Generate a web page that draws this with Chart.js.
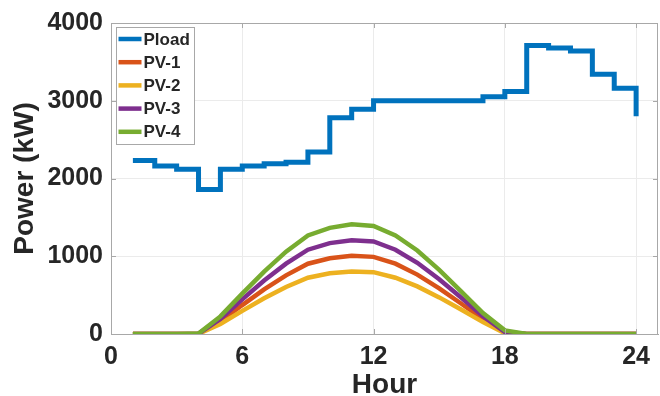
<!DOCTYPE html>
<html>
<head>
<meta charset="utf-8">
<script src="https://cdn.jsdelivr.net/npm/chart.js@4.4.1/dist/chart.umd.min.js"></script>
<style>
  html, body { margin: 0; padding: 0; background: #ffffff; }
  #wrap { width: 660px; height: 396px; position: relative; }
</style>
</head>
<body>
<div id="wrap"><canvas id="power"></canvas></div>
<script>
// hourly values
const hours = [1, 2, 3, 4, 5, 6, 7, 8, 9, 10, 11, 12, 13, 14, 15, 16, 17, 18, 19, 20, 21, 22, 23, 24];
const pload = [2230, 2160, 2120, 1860, 2120, 2160, 2190, 2210, 2340, 2780, 2890, 3000,
               3000, 3000, 3000, 3000, 3050, 3120, 3710, 3680, 3640, 3340, 3160, 2800];
const pv1 = [0, 0, 0, 3, 160, 372, 573, 754, 904, 975, 1005, 992, 904, 764, 588, 392, 191, 15, 0, 0, 0, 0, 0, 0];
const pv2 = [0, 0, 0, 2, 128, 298, 459, 604, 724, 781, 805, 795, 724, 612, 471, 314, 153, 10, 0, 0, 0, 0, 0, 0];
const pv3 = [0, 0, 0, 4, 192, 446, 687, 904, 1084, 1169, 1205, 1190, 1084, 916, 705, 470, 229, 25, 0, 0, 0, 0, 0, 0];
const pv4 = [0, 0, 0, 5, 226, 520, 803, 1059, 1268, 1365, 1410, 1390, 1267, 1074, 825, 548, 269, 47, 0, 0, 0, 0, 0, 0];
const xTicks = [0, 6, 12, 18, 24];
const yTicks = [0, 1000, 2000, 3000, 4000];

const seriesLabels = ['Pload', 'PV-1', 'PV-2', 'PV-3', 'PV-4'];
const seriesColors = ['#0072BD', '#D95319', '#EDB120', '#7E2F8E', '#77AC30'];

const textColor = '#262626';
const axisColor = '#a8a8a8';
const gridColor = '#ebebeb';
const fontFamily = '"Liberation Sans", Arial, sans-serif';

function toPoints(values) {
    return hours.map((h, i) => ({ x: h, y: values[i] }));
}

// legend box drawn inside the plot, MATLAB style
const insideLegend = {
    id: 'insideLegend',
    afterDraw(chart) {
        const ctx = chart.ctx;
        const area = chart.chartArea;
        const left = area.left + 5.5, top = area.top + 4.5;
        const w = 78, rowH = 23.2;
        const rows = chart.data.datasets.length;
        ctx.save();
        ctx.fillStyle = '#ffffff';
        ctx.strokeStyle = axisColor;
        ctx.lineWidth = 1;
        ctx.fillRect(left, top, w, rows * rowH + 1);
        ctx.strokeRect(left, top, w, rows * rowH + 1);
        ctx.font = 'bold 17px ' + fontFamily;
        ctx.textBaseline = 'middle';
        ctx.fillStyle = textColor;
        chart.data.datasets.forEach((ds, i) => {
            const y = top + 11.5 + i * rowH;
            ctx.strokeStyle = ds.borderColor;
            ctx.lineWidth = 4.5;
            ctx.beginPath();
            ctx.moveTo(left + 2, y);
            ctx.lineTo(left + 25, y);
            ctx.stroke();
            ctx.fillText(ds.label, left + 27, y + 1);
        });
        ctx.restore();
    }
};

// full axes box with inward ticks on all four sides
const axesBox = {
    id: 'axesBox',
    afterDatasetsDraw(chart) {
        const ctx = chart.ctx;
        const a = chart.chartArea;
        const xs = chart.scales.x, ys = chart.scales.y;
        const tl = 5;
        ctx.save();
        ctx.strokeStyle = axisColor;
        ctx.lineWidth = 1;
        ctx.strokeRect(a.left + 0.5, a.top + 0.5, a.right - a.left - 1, a.bottom - a.top);
        ctx.beginPath();
        xTicks.forEach(v => {
            const px = Math.round(xs.getPixelForValue(v)) + 0.5;
            ctx.moveTo(px, a.bottom); ctx.lineTo(px, a.bottom - tl);
            ctx.moveTo(px, a.top); ctx.lineTo(px, a.top + tl);
        });
        yTicks.forEach(v => {
            const py = Math.round(ys.getPixelForValue(v)) + 0.5;
            ctx.moveTo(a.left, py); ctx.lineTo(a.left + tl, py);
            ctx.moveTo(a.right, py); ctx.lineTo(a.right - tl, py);
        });
        ctx.stroke();
        ctx.restore();
    }
};

const datasets = [pload, pv1, pv2, pv3, pv4].map((values, i) => ({
    label: seriesLabels[i],
    data: toPoints(values),
    borderColor: seriesColors[i],
    backgroundColor: seriesColors[i],
    borderWidth: i === 0 ? 5 : 4.5,
    stepped: i === 0 ? 'before' : false,
    tension: 0,
    pointRadius: 0,
    fill: false,
    order: 4 - i
}));

new Chart(document.getElementById('power'), {
    type: 'line',
    data: { datasets: datasets },
    options: {
        responsive: true,
        maintainAspectRatio: false,
        animation: false,
        layout: { padding: { top: 19, right: 2, left: 0, bottom: 0 } },
        plugins: {
            legend: { display: false },
            tooltip: { enabled: false }
        },
        scales: {
            x: {
                type: 'linear',
                min: 0,
                max: 25,
                afterBuildTicks: scale => { scale.ticks = xTicks.map(v => ({ value: v })); },
                afterFit: scale => { scale.height = 62; },
                grid: { color: gridColor, drawTicks: false },
                border: { color: axisColor },
                ticks: {
                    color: textColor,
                    padding: 8,
                    maxRotation: 0,
                    callback: v => String(v),
                    font: { family: fontFamily, size: 25, weight: 'bold' }
                },
                title: {
                    display: true,
                    text: 'Hour',
                    color: textColor,
                    padding: { top: 0, bottom: 0 },
                    font: { family: fontFamily, size: 28, weight: 'bold', lineHeight: 0.8 }
                }
            },
            y: {
                min: 0,
                max: 4000,
                afterBuildTicks: scale => { scale.ticks = yTicks.map(v => ({ value: v })); },
                afterFit: scale => { scale.width = 111; },
                grid: { color: gridColor, drawTicks: false },
                border: { color: axisColor },
                ticks: {
                    color: textColor,
                    padding: 8,
                    callback: v => String(v),
                    font: { family: fontFamily, size: 25, weight: 'bold' }
                },
                title: {
                    display: true,
                    text: 'Power (kW)',
                    color: textColor,
                    padding: { top: 8, bottom: 0 },
                    font: { family: fontFamily, size: 28, weight: 'bold', lineHeight: 1.2 }
                }
            }
        }
    },
    plugins: [axesBox, insideLegend]
});
</script>
</body>
</html>
